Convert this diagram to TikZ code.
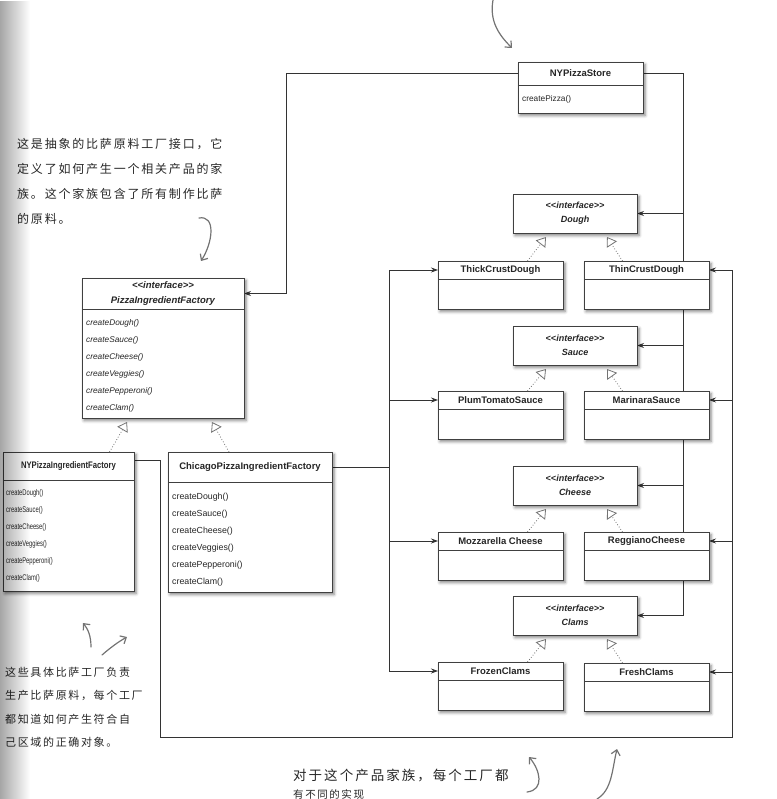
\documentclass[tikz,border=0pt]{standalone}
\usepackage{fontspec}
\setmainfont{Liberation Sans}
\setsansfont{Liberation Sans}
\newfontfamily\hand[LetterSpace=15]{Noto Sans CJK SC}
\usepackage{graphicx}
\usetikzlibrary{calc}
\usetikzlibrary{arrows.meta}
\usetikzlibrary{shadows.blur}
\usetikzlibrary{fadings}
\pgfdeclarelayer{background}
\pgfsetlayers{background,main}
\newcommand*{\prodw }{125}
\newcommand*{\prodh }{48}
\newcommand*{\prodhd}{18}
\newcommand*{\ifw   }{124}
\newcommand*{\ifh   }{39}
\newcommand*{\lcol  }{438}
\newcommand*{\rcol  }{584}
\newcommand*{\icol  }{513}
\newcommand*{\stereo}{\textless\kern0pt\textless\kern0pt interface\kern0pt\textgreater\kern0pt\textgreater}
% class box: [ops options]{name}{x}{y}{width}{height}{header}{title}{operations}
\newcommand*{\umlbox}[9][]{%
    \node [classbox, minimum width=#5, minimum height=#6, anchor=north west] (#2) at (#3,#4) {};
    \draw [divider] ([yshift=-#7pt]#2.north west) -- ([yshift=-#7pt]#2.north east);
    \node [classtitle] (#2-t) at ([yshift=-#7pt/2]#2.north) {#8};
    \node [classops, #1] (#2-m) at ([xshift=4pt, yshift=-#7pt-10.5pt]#2.north west) {#9};
}
\newcommand*{\prodbox}[4]{\umlbox{#1}{#2}{#3}{\prodw}{\prodh}{\prodhd}{#4}{}}
\newcommand*{\ifacebox}[4]{%
    \node [classbox, ifacetitle, minimum width=\ifw, minimum height=\ifh, anchor=north west] (#1) at (#2,#3)
        {\stereo\\#4};
}
\newcommand*{\narrow}[1]{\scalebox{0.7}[1]{#1}}

\begin{document}
\begin{tikzpicture}[x=1pt, y=-1pt, font=\sffamily,
    classbox/.style={draw=black!75, line width=0.8pt, fill=white, inner sep=0pt, outer sep=0pt,
        blur shadow={shadow xshift=2pt, shadow yshift=-2.5pt, shadow blur radius=3pt, shadow opacity=50}},
    divider/.style={draw=black!75, line width=0.8pt},
    classtitle/.style={font=\bfseries\fontsize{9.5}{15}\selectfont, align=center, inner sep=0pt, text=black!85},
    ifacetitle/.style={font=\bfseries\itshape\fontsize{9}{14}\selectfont, align=center, text=black!85},
    classops/.style={font=\fontsize{8.3}{17}\selectfont, align=left, inner sep=0pt, anchor=north west, text=black!85},
    wire/.style={draw=black!80, line width=0.8pt},
    assoc/.style={wire, -{Stealth[length=7pt, width=5pt]}},
    realize/.style={draw=black!55, line width=0.8pt, dotted, -{Triangle[open, length=9pt, width=12pt]}},
    scribble/.style={draw=black!55, line width=1.2pt, line cap=round, -{Straight Barb[length=5pt, width=9pt]}},
    note/.style={font=\hand\fontsize{12}{25}\selectfont, align=left, inner sep=0pt, text=black!85}]
    \useasboundingbox (0,0) rectangle (776,799);

    % factories and the store
    \umlbox{store}{518}{62}{125}{51}{23}{NYPizzaStore}{createPizza()}
    \umlbox[font=\itshape\fontsize{8.3}{17}\selectfont]{pif}{82}{278}{162}{140}{31}
        {\textit{\stereo}\\\textit{PizzaIngredientFactory}}
        {createDough()\\createSauce()\\createCheese()\\createVeggies()\\createPepperoni()\\createClam()}
    \umlbox[xshift=-1pt, yshift=1.5pt]{nyf}{3}{452}{131}{139}{28}{\scalebox{0.81}[1]{NYPizzaIngredientFactory}}
        {\narrow{createDough()}\\\narrow{createSauce()}\\\narrow{createCheese()}\\\narrow{createVeggies()}\\\narrow{createPepperoni()}\\\narrow{createClam()}}
    \umlbox[font=\fontsize{8.8}{17}\selectfont]{chic}{168}{452}{164}{140}{30}{ChicagoPizzaIngredientFactory}
        {createDough()\\createSauce()\\createCheese()\\createVeggies()\\createPepperoni()\\createClam()}

    % ingredient families
    \ifacebox{dough}{\icol}{194}{Dough}
    \prodbox{thick}{\lcol}{261}{ThickCrustDough}
    \prodbox{thin}{\rcol}{261}{ThinCrustDough}
    \ifacebox{sauce}{\icol}{326}{Sauce}
    \prodbox{plum}{\lcol}{391}{PlumTomatoSauce}
    \prodbox{marinara}{\rcol}{391}{MarinaraSauce}
    \ifacebox{cheese}{\icol}{466}{Cheese}
    \prodbox{mozz}{\lcol}{532}{Mozzarella Cheese}
    \prodbox{reggiano}{\rcol}{532}{ReggianoCheese}
    \ifacebox{clams}{\icol}{596}{Clams}
    \prodbox{frozen}{\lcol}{662}{FrozenClams}
    \prodbox{fresh}{\rcol}{663}{FreshClams}

    \begin{pgfonlayer}{background}
        \coordinate (leftbend) at (286,0);
        \draw [assoc] (store-t -| store.west) -| (leftbend |- pif-t) -- (pif-t -| pif.east);
        % store to the ingredient interfaces
        \coordinate (busa) at (683,0);
        \draw [assoc] (store-t -| store.east) -| (busa |- clams.east) -- (clams.east);
        \draw [assoc] (busa |- dough.east) -- (dough.east);
        \draw [assoc] (busa |- sauce.east) -- (sauce.east);
        \draw [assoc] (busa |- cheese.east) -- (cheese.east);
        % NY factory to its products
        \coordinate (busbl) at (160,737);
        \coordinate (busbr) at (732,737);
        \draw [assoc] ([yshift=-8pt]nyf.north east) -| (busbl) -- (busbr) |- (thin-t -| thin.east);
        \draw [assoc] (busbr |- marinara-t) -- (marinara-t -| marinara.east);
        \draw [assoc] (busbr |- reggiano-t) -- (reggiano-t -| reggiano.east);
        \draw [assoc] (busbr |- fresh-t) -- (fresh-t -| fresh.east);
        % Chicago factory to its products
        \coordinate (busc) at (389,0);
        \draw [wire] (chic-t -| chic.east) -- (busc |- chic-t);
        \draw [wire] (busc |- thick-t) -- (busc |- frozen-t);
        \draw [assoc] (busc |- thick-t) -- (thick-t -| thick.west);
        \draw [assoc] (busc |- plum-t) -- (plum-t -| plum.west);
        \draw [assoc] (busc |- mozz-t) -- (mozz-t -| mozz.west);
        \draw [assoc] (busc |- frozen-t) -- (frozen-t -| frozen.west);
    \end{pgfonlayer}

    % realizations
    \draw [realize] ([xshift=41pt]nyf.north) -- ([xshift=-36pt, yshift=-4pt]pif.south);
    \draw [realize] ([xshift=-21pt]chic.north) -- ([xshift=49pt, yshift=-4pt]pif.south);
    \draw [realize] ([xshift=27pt]thick.north) -- ([xshift=-29pt, yshift=-4pt]dough.south);
    \draw [realize] ([xshift=-24pt]thin.north) -- ([xshift=32pt, yshift=-4pt]dough.south);
    \draw [realize] ([xshift=27pt]plum.north) -- ([xshift=-29pt, yshift=-4pt]sauce.south);
    \draw [realize] ([xshift=-24pt]marinara.north) -- ([xshift=32pt, yshift=-4pt]sauce.south);
    \draw [realize] ([xshift=27pt]mozz.north) -- ([xshift=-29pt, yshift=-4pt]cheese.south);
    \draw [realize] ([xshift=-24pt]reggiano.north) -- ([xshift=32pt, yshift=-4pt]cheese.south);
    \draw [realize] ([xshift=27pt]frozen.north) -- ([xshift=-29pt, yshift=-4pt]clams.south);
    \draw [realize] ([xshift=-24pt]fresh.north) -- ([xshift=32pt, yshift=-4pt]clams.south);

    % handwritten notes
    \node [note, anchor=north west] (abstractnote) at (17,138)
        {这是抽象的比萨原料工厂接口，它\\定义了如何产生一个相关产品的家\\族。这个家族包含了所有制作比萨\\的原料。};
    \node [note, font=\hand\fontsize{11}{23.3}\selectfont, anchor=north west] (concretenote) at (5,667)
        {这些具体比萨工厂负责\\生产比萨原料，每个工厂\\都知道如何产生符合自\\己区域的正确对象。};
    \node [note, font=\hand\fontsize{13.5}{20}\selectfont, anchor=base west] (familynote) at (293,780) {对于这个产品家族，每个工厂都};
    \node [note, font=\hand\fontsize{10.5}{20}\selectfont, anchor=base west] (familynoteb) at (293,798) {有不同的实现};
    \draw [scribble] (493,0) .. controls (489,22) and (500,36) .. (512,48);
    \draw [scribble] (199,218) .. controls (216,215) and (213,242) .. (201,261);
    \draw [scribble] (91,647) .. controls (91,636) and (88,629) .. (83,623);
    \draw [scribble] (102,655) .. controls (110,648) and (118,642) .. (127,637);
    \draw [scribble] (527,792) .. controls (545,790) and (540,770) .. (529,757);
    \draw [scribble] (597,799) .. controls (612,790) and (612,770) .. (617,749);

    % binding shadow
    \fill [black, opacity=0.35, path fading=east] (0,0) rectangle (30,799);
\end{tikzpicture}
\end{document}
